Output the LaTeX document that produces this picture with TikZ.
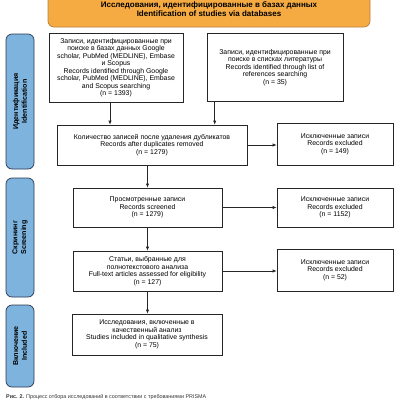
\documentclass[tikz,border=0pt]{standalone}
\usepackage{fontspec}
\setmainfont{Liberation Sans}
\usetikzlibrary{arrows.meta}
\definecolor{hdrorange}{HTML}{F5AA42}
\definecolor{hdrborder}{HTML}{B9803A}
\definecolor{sideblue}{HTML}{7DB3DD}
\definecolor{sideborder}{HTML}{2A3850}
\tikzset{
  box/.style={draw=black!85, line width=0.6pt, fill=white, align=center, inner sep=1pt,
    font=\fontsize{6.9}{7.5}\selectfont},
  side/.style={draw=sideborder, line width=0.7pt, fill=sideblue, rounded corners=6pt,
    minimum width=28pt, align=center, inner sep=0pt},
  sidetext/.style={rotate=90, align=center, font=\bfseries\fontsize{7.1}{8.8}\selectfont},
  arr/.style={-{Latex[length=4pt,width=3.2pt]}, line width=0.6pt, draw=black!85},
}
\begin{document}
\begin{tikzpicture}[x=1pt,y=-1pt]
\useasboundingbox (0,0) rectangle (400,400);
% header
\node[draw=hdrborder, line width=0.7pt, fill=hdrorange, rounded corners=6pt,
  minimum width=322pt, minimum height=37pt, inner sep=0pt] (hdr) at (209,8.5) {};
\node[align=center, font=\bfseries\fontsize{8}{9.4}\selectfont] (hdrtext) at (209,9)
  {Исследования, идентифицированные в базах данных\\Identification of studies via databases};
% side labels
\node[side, minimum height=135pt] (s1) at (20,101.5) {};
\node[sidetext] (s1t) at (s1.center) {Идентификация\\Identification};
\node[side, minimum height=119pt] (s2) at (20,237.5) {};
\node[sidetext] (s2t) at (s2.center) {Скрининг\\Screening};
\node[side, minimum height=82pt] (s3) at (20,346) {};
\node[sidetext] (s3t) at (s3.center) {Включение\\Included};
% boxes
\node[box, minimum width=134pt, minimum height=69pt] (A) at (116,67.5)
  {Записи, идентифицированные при\\ поиске в базах данных Google\\ scholar, PubMed (MEDLINE), Embase\\ и Scopus\\ Records identified through Google\\ scholar, PubMed (MEDLINE), Embase\\ and Scopus searching\\ (n = 1393)};
\node[box, minimum width=136pt, minimum height=68pt] (B) at (275,67.5)
  {Записи, идентифицированные при\\ поиске в списках литературы\\ Records identified through list of\\ references searching\\ (n = 35)};
\node[box, minimum width=190pt, minimum height=40pt] (C) at (152,145)
  {Количество записей после удаления дубликатов\\ Records after duplicates removed\\ (n = 1279)};
\node[box, minimum width=116pt, minimum height=42pt] (D) at (335,144)
  {Исключенные записи\\ Records excluded\\ (n = 149)};
\node[box, minimum width=149pt, minimum height=39pt] (E) at (147.5,207.5)
  {Просмотренные записи\\ Records screened\\ (n = 1279)};
\node[box, minimum width=116pt, minimum height=39pt] (F) at (335,207.5)
  {Исключенные записи\\ Records excluded\\ (n = 1152)};
\node[box, minimum width=149pt, minimum height=40pt] (G) at (147.5,271)
  {Статьи, выбранные для\\ полнотекстового анализа\\ Full-text articles assessed for eligibility\\ (n = 127)};
\node[box, minimum width=116pt, minimum height=42pt] (H) at (335,270)
  {Исключенные записи\\ Records excluded\\ (n = 52)};
\node[box, minimum width=150pt, minimum height=41pt] (I) at (147,334.5)
  {Исследования, включенные в\\ качественный анализ\\ Studies included in qualitative synthesis\\ (n = 75)};
% arrows
\draw[arr] ([xshift=-6pt]A.south) -- ([xshift=-6pt]A.south |- C.north);
\draw[arr] ([xshift=8pt]B.south west) -- ([xshift=8pt]B.south west |- C.north);
\draw[arr] (C.east) -- (C.east -| D.west);
\draw[arr] (E.north |- C.south) -- (E.north);
\draw[arr] (E.east) -- (E.east -| F.west);
\draw[arr] (E.south) -- (G.north);
\draw[arr] (G.east) -- (G.east -| H.west);
\draw[arr] (G.south) -- (G.south |- I.north);
% caption
\node[anchor=base west, inner sep=0pt, font=\fontsize{5.4}{6.5}\selectfont, text=black!80] (cap) at (6,398.3)
  {\textbf{Рис. 2.} Процесс отбора исследований в соответствии с требованиями PRISMA};
\end{tikzpicture}
\end{document}
